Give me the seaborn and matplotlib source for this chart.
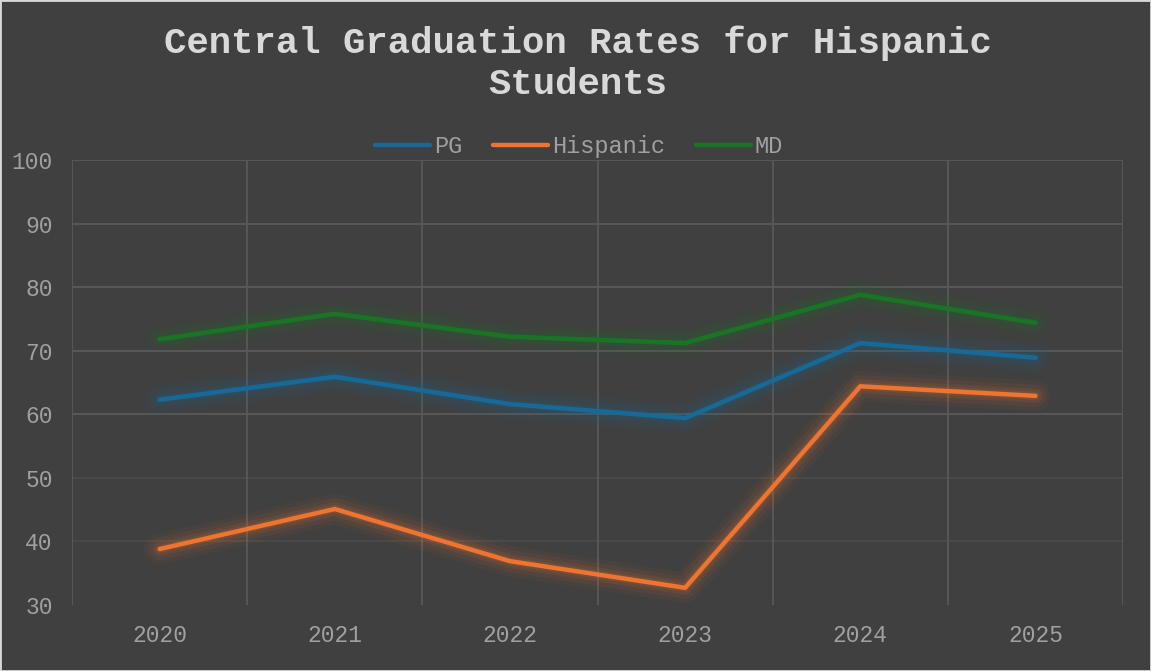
import numpy as np
import pandas as pd
import matplotlib.pyplot as plt
import matplotlib.patheffects as pe
import seaborn as sns

years = ['2020', '2021', '2022', '2023', '2024', '2025']
pg = [62.3, 65.9, 61.6, 59.4, 71.2, 68.9]
hispanic = [38.8, 45.1, 36.9, 32.7, 64.4, 62.9]
md = [71.8, 75.8, 72.2, 71.2, 78.8, 74.4]
series_names = ['PG', 'Hispanic', 'MD']
colors = ['#176a98', '#ee7430', '#1a7426']

df = pd.DataFrame({'year': years * 3,
                   'rate': pg + hispanic + md,
                   'group': np.repeat(series_names, len(years))})

bg = '#404040'
sns.set_theme(style='dark')
plt.rcParams['font.family'] = ['Liberation Mono', 'DejaVu Sans Mono']

fig = plt.figure(figsize=(11.51, 6.71), dpi=100, facecolor=bg)
ax = fig.add_axes([0.0626, 0.0984, 0.9131, 0.6631])
ax.set_facecolor(bg)

sns.lineplot(data=df, x='year', y='rate', hue='group', hue_order=series_names,
             palette=colors, linewidth=3.2, ax=ax, sort=False, legend=False)

# soft glow under each line
for line, c in zip(ax.get_lines(), colors):
    line.set_solid_capstyle('round')
    line.set_path_effects([
        pe.Stroke(linewidth=22, foreground=c, alpha=0.05),
        pe.Stroke(linewidth=16, foreground=c, alpha=0.07),
        pe.Stroke(linewidth=10, foreground=c, alpha=0.1),
        pe.Stroke(linewidth=6, foreground=c, alpha=0.12),
        pe.Normal()])

ax.set_ylim(30, 100)
ax.set_xlim(-0.5, 5.5)
ax.set_yticks(range(30, 101, 10))
for v in range(40, 101, 10):
    ax.axhline(v, color='#5a5a5a' if v >= 60 else '#4a4a4a', lw=1.3, zorder=0)
for i in range(7):
    ax.axvline(i - 0.5, color='#595959', lw=1.3, zorder=0)
ax.grid(False)
for s in ax.spines.values():
    s.set_visible(False)

ax.tick_params(axis='both', length=0, colors='#a0a0a0', labelsize=16.5)
ax.tick_params(axis='x', pad=14)
ax.tick_params(axis='y', pad=14)
ax.set_xlabel('')
ax.set_ylabel('')

fig.text(0.502, 0.905, 'Central Graduation Rates for Hispanic\nStudents',
         ha='center', va='center', fontsize=26.8, fontweight='bold',
         color='#d9d9d9', linespacing=1.22)

handles = [plt.Line2D([], [], color=c, lw=3.2, solid_capstyle='round') for c in colors]
leg = fig.legend(handles, series_names, loc='center', bbox_to_anchor=(0.503, 0.782),
                 ncol=3, frameon=False, fontsize=17, handlelength=2.35,
                 columnspacing=1.3, handletextpad=0.15)
for t in leg.get_texts():
    t.set_color('#a0a0a0')

fig.patches.append(plt.Rectangle((0, 0), 1, 1, transform=fig.transFigure,
                                 fill=False, edgecolor='#d9d9d9', lw=2))

fig.savefig('out.png', dpi=100, facecolor=bg)
